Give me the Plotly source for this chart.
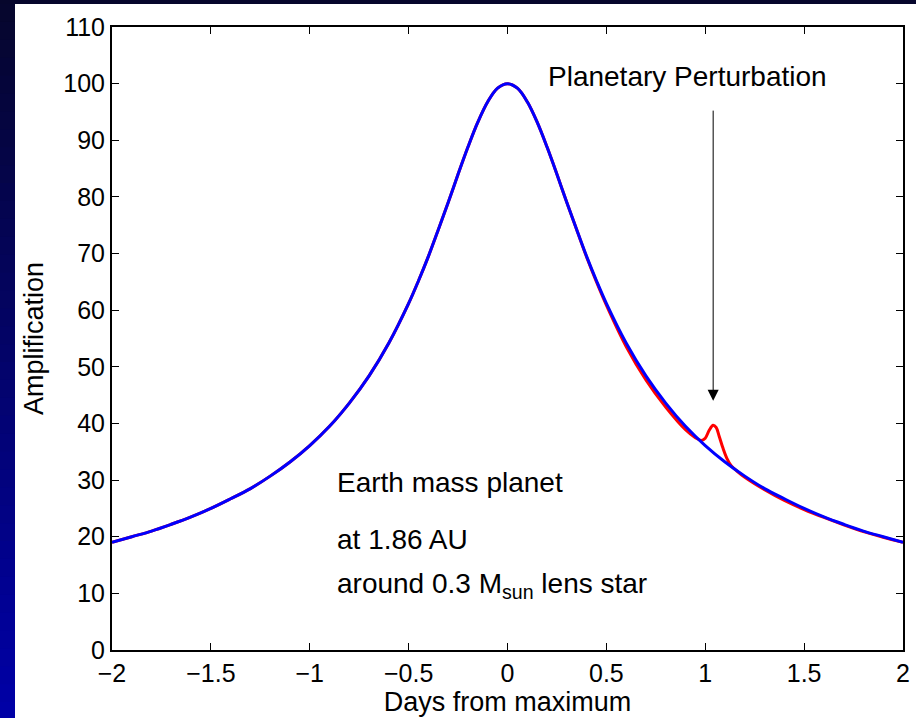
import plotly.graph_objects as go

# ---- data ----
t_blue = [-2.0, -1.9, -1.8, -1.7, -1.6, -1.5, -1.4, -1.3, -1.2, -1.1, -1.0, -0.9, -0.8, -0.7, -0.6,
          -0.5, -0.45, -0.4, -0.35, -0.3, -0.25, -0.2, -0.15, -0.1, -0.05, 0.0,
          0.05, 0.1, 0.15, 0.2, 0.25, 0.3, 0.35, 0.4, 0.45, 0.5,
          0.6, 0.7, 0.8, 0.9, 1.0, 1.1, 1.2, 1.3, 1.4, 1.5, 1.6, 1.7, 1.8, 1.9, 2.0]
a_blue = [19.0, 20.0, 21.0, 22.2, 23.5, 25.0, 26.7, 28.5, 30.7, 33.2, 36.1, 39.5, 43.6, 48.4, 54.2,
          61.2, 65.2, 69.5, 74.2, 79.0, 84.0, 88.8, 93.2, 96.8, 99.2, 100.0,
          99.2, 96.8, 93.2, 88.8, 84.0, 79.0, 74.2, 69.5, 65.2, 61.2,
          54.2, 48.4, 43.6, 39.5, 36.1, 33.2, 30.7, 28.5, 26.7, 25.0, 23.5, 22.2, 21.0, 20.0, 19.0]

t_red = [-2.0, -1.9, -1.8, -1.7, -1.6, -1.5, -1.4, -1.3, -1.2, -1.1, -1.0, -0.9, -0.8, -0.7, -0.6,
         -0.5, -0.45, -0.4, -0.35, -0.3, -0.25, -0.2, -0.15, -0.1, -0.05, 0.0,
         0.05, 0.1, 0.15, 0.2, 0.25, 0.3, 0.35, 0.4, 0.45, 0.5,
         0.6, 0.7, 0.8, 0.9, 0.95, 0.98, 1.0, 1.02, 1.04, 1.055, 1.07, 1.09, 1.11, 1.13, 1.16,
         1.2, 1.3, 1.4, 1.5, 1.6, 1.7, 1.8, 1.9, 2.0]
a_red = [19.0, 20.0, 21.0, 22.2, 23.5, 25.0, 26.7, 28.5, 30.7, 33.2, 36.1, 39.5, 43.6, 48.4, 54.2,
         61.2, 65.2, 69.5, 74.2, 79.0, 84.0, 88.8, 93.2, 96.8, 99.2, 100.0,
         99.2, 96.8, 93.2, 88.8, 84.0, 79.0, 74.2, 69.4, 65.0, 60.9,
         53.6, 47.7, 42.9, 38.9, 37.5, 37.0, 37.4, 38.8, 39.7, 39.3, 37.8, 35.6, 33.8, 32.6, 31.6,
         30.5, 28.3, 26.4, 24.8, 23.4, 22.1, 20.9, 19.9, 19.0]

x_ticks = [-2, -1.5, -1, -0.5, 0, 0.5, 1, 1.5, 2]
y_ticks = [0, 10, 20, 30, 40, 50, 60, 70, 80, 90, 100, 110]

FONT = "Liberation Sans, Arial, sans-serif"

fig = go.Figure()
fig.add_trace(go.Scatter(x=t_red, y=a_red, mode="lines", line=dict(color="#ff0000", width=3, shape="spline"),
                         showlegend=False, hoverinfo="skip"))
fig.add_trace(go.Scatter(x=t_blue, y=a_blue, mode="lines", line=dict(color="#0000ff", width=3, shape="spline"),
                         showlegend=False, hoverinfo="skip"))

# background: white sheet + gradient strip on the left
L, R, T, B = 112, 13, 27, 68
W, H = 916, 718
pw, ph = W - L - R, H - T - B

def px2x(px):
    return (px - L) / pw

def py2y(py):
    return (H - B - py) / ph

shapes = [dict(type="rect", xref="paper", yref="paper", x0=px2x(15), x1=px2x(W + 5),
               y0=py2y(H + 5), y1=py2y(4), fillcolor="white", line=dict(width=0), layer="below")]
n = 40
top = (6, 6, 44)
bot = (0, 0, 168)
for i in range(n):
    f = (i + 0.5) / n
    c = tuple(round(top[k] + (bot[k] - top[k]) * f) for k in range(3))
    y_top = 4 + (H + 2 - 4) * i / n
    y_bot = 4 + (H + 2 - 4) * (i + 1) / n + 1
    shapes.append(dict(type="rect", xref="paper", yref="paper", x0=px2x(-5), x1=px2x(15),
                       y0=py2y(y_bot), y1=py2y(y_top), fillcolor="rgb(%d,%d,%d)" % c,
                       line=dict(width=0), layer="below"))

annotations = [
    dict(x=1.04, y=44.0, ax=1.04, ay=95.5, xref="x", yref="y", axref="x", ayref="y",
         text="", showarrow=True, arrowhead=2, arrowsize=2.2, arrowwidth=1, arrowcolor="black"),
    dict(x=0.91, y=101.2, xref="x", yref="y", text="Planetary Perturbation", showarrow=False,
         xanchor="center", yanchor="middle", font=dict(size=28, color="black", family=FONT)),
    dict(x=-0.87, y=29.6, xref="x", yref="y", text="Earth mass planet", showarrow=False,
         xanchor="left", yanchor="middle", font=dict(size=28, color="black", family=FONT)),
    dict(x=-0.87, y=19.5, xref="x", yref="y", text="at 1.86 AU", showarrow=False,
         xanchor="left", yanchor="middle", font=dict(size=28, color="black", family=FONT)),
    dict(x=-0.87, y=11.4, xref="x", yref="y", text="around 0.3 M<sub>sun</sub> lens star", showarrow=False,
         xanchor="left", yanchor="middle", font=dict(size=28, color="black", family=FONT)),
]

fig.update_layout(
    width=W, height=H,
    margin=dict(l=L, r=R, t=T, b=B, pad=0, autoexpand=False),
    paper_bgcolor="rgb(6,6,44)",
    plot_bgcolor="white",
    shapes=shapes,
    annotations=annotations,
    font=dict(family=FONT, color="black", size=25),
    xaxis=dict(range=[-2, 2], tickvals=x_ticks, ticks="inside", ticklen=7, tickwidth=1,
               tickcolor="black", showline=True, linecolor="black", linewidth=2, mirror="ticks",
               showgrid=False, zeroline=False, tickfont=dict(size=25), automargin=False,
               title=dict(text="Days from maximum", font=dict(size=27), standoff=2)),
    yaxis=dict(range=[0, 110], tickvals=y_ticks, ticks="inside", ticklen=7, tickwidth=1,
               tickcolor="black", showline=True, linecolor="black", linewidth=2, mirror="ticks",
               showgrid=False, zeroline=False, tickfont=dict(size=25), automargin=False,
               title=dict(text="Amplification", font=dict(size=27), standoff=12)),
)

fig.write_html("out.html")
